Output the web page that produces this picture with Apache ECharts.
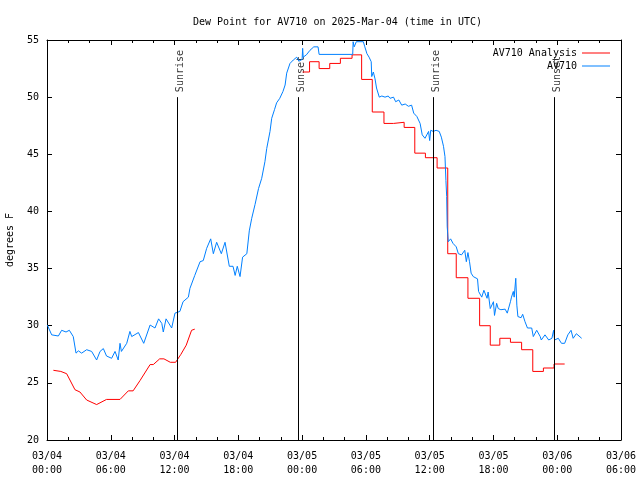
<!DOCTYPE html>
<html><head><meta charset="utf-8">
<script src="https://cdn.jsdelivr.net/npm/echarts@6/dist/echarts.min.js"></script>
<style>html,body{margin:0;padding:0;background:#fff}#c{width:640px;height:480px}</style>
</head><body><div id="c"></div>
<script>
var xTickLabels = ["03/04\n00:00","03/04\n06:00","03/04\n12:00","03/04\n18:00","03/05\n00:00","03/05\n06:00","03/05\n12:00","03/05\n18:00","03/06\n00:00","03/06\n06:00"];
// hours since 03/04 00:00 UTC
var analysisSmooth = [[0.6,26.1],[1.3,26.0],[1.85,25.8],[2.63,24.4],[3.1,24.2],[3.73,23.5],[4.67,23.1],[5.6,23.55],[6.87,23.55],[7.65,24.3],[8.1,24.3],[8.75,25.2],[9.7,26.6],[10.0,26.6],[10.6,27.1],[11.0,27.1],[11.6,26.8],[12.1,26.8],[12.6,27.5],[13.1,28.3],[13.6,29.6],[13.9,29.7]];
var analysisStep = [[24.05,52.2],[24.7,53.1],[25.6,52.5],[26.6,52.95],[27.6,53.4],[28.7,53.7],[29.6,51.55],[30.6,48.7],[31.7,47.7],[32.6,47.8],[33.6,47.35],[34.6,45.1],[35.6,44.7],[36.7,43.8],[37.7,36.3],[38.5,34.2],[39.6,32.4],[40.7,30.0],[41.7,28.3],[42.6,28.9],[43.6,28.55],[44.65,27.9],[45.7,26.0],[46.7,26.3],[47.7,26.65],[48.7,26.65]];
var observed = [[0.03,30.06],[0.44,29.2],[1.07,29.1],[1.38,29.6],[1.79,29.45],[2.1,29.6],[2.47,29.05],[2.73,27.6],[2.95,27.8],[3.26,27.6],[3.73,27.9],[4.2,27.75],[4.67,27.0],[4.99,27.75],[5.3,28.0],[5.6,27.35],[6.08,27.15],[6.4,27.75],[6.7,27.0],[6.87,28.46],[7.0,27.75],[7.5,28.46],[7.8,29.5],[7.97,29.05],[8.6,29.4],[9.1,28.46],[9.7,30.06],[10.16,29.8],[10.5,30.6],[10.8,30.2],[10.94,29.45],[11.2,30.6],[11.73,29.8],[12.04,31.1],[12.5,31.25],[12.8,32.1],[13.3,32.5],[13.45,33.27],[13.6,33.4],[13.9,34.4],[14.4,35.6],[14.7,35.7],[15.02,36.77],[15.4,37.6],[15.65,36.3],[15.96,37.3],[16.4,36.3],[16.75,37.3],[17.15,35.2],[17.5,35.2],[17.7,34.4],[17.9,35.2],[18.16,34.3],[18.4,36.0],[18.8,36.3],[19.03,38.3],[19.26,39.4],[19.57,40.6],[19.9,42.0],[20.2,42.9],[20.5,44.35],[20.67,45.5],[20.98,47.0],[21.14,48.15],[21.4,48.9],[21.6,49.5],[21.9,49.9],[22.2,50.5],[22.4,51.06],[22.55,52.1],[22.86,52.95],[23.17,53.25],[23.5,53.5],[23.7,53.15],[24.0,53.3],[24.05,54.27],[24.1,53.5],[24.4,53.7],[24.74,54.1],[25.1,54.4],[25.5,54.4],[25.6,53.74],[28.76,53.74],[28.8,54.85],[28.9,54.4],[29.1,54.85],[29.76,54.85],[29.9,54.4],[30.1,53.8],[30.3,53.5],[30.5,53.1],[30.55,51.8],[30.7,52.2],[30.86,51.6],[31.0,50.8],[31.26,50.0],[31.5,50.1],[31.8,50.0],[32.1,50.1],[32.27,49.9],[32.6,50.0],[32.8,49.6],[33.1,49.75],[33.37,49.3],[33.7,49.4],[34.0,49.2],[34.3,49.3],[34.5,48.6],[34.8,48.3],[35.1,47.7],[35.3,46.7],[35.56,46.4],[35.9,47.0],[36.0,46.2],[36.1,47.1],[36.34,47.0],[36.6,47.1],[36.9,47.0],[37.1,46.5],[37.3,45.7],[37.44,44.8],[37.53,42.7],[37.6,41.3],[37.65,38.66],[37.75,37.35],[37.97,37.6],[38.2,37.2],[38.5,36.9],[38.7,36.3],[39.0,36.2],[39.3,36.6],[39.45,35.6],[39.6,36.4],[39.75,35.6],[39.9,34.6],[40.1,34.3],[40.5,34.1],[40.6,33.0],[40.9,32.5],[41.1,33.1],[41.4,32.4],[41.5,32.95],[41.7,31.5],[42.0,32.1],[42.1,30.9],[42.3,31.96],[42.45,31.5],[42.7,31.4],[43.1,31.45],[43.3,31.1],[43.6,32.1],[43.7,32.5],[43.87,33.0],[43.95,32.5],[44.1,34.15],[44.2,31.8],[44.3,30.8],[44.6,30.7],[44.75,31.0],[44.97,30.35],[45.2,29.8],[45.6,29.8],[45.75,29.05],[46.07,29.6],[46.4,29.05],[46.5,28.75],[46.85,29.2],[47.2,28.75],[47.5,28.9],[47.66,29.6],[47.75,28.75],[48.1,28.9],[48.4,28.46],[48.7,28.46],[49.0,29.2],[49.3,29.6],[49.5,28.9],[49.8,29.3],[50.3,28.9]];
var sunEvents = ["Sunrise","Sunset","Sunrise","Sunset"];
var sunTimes = [12.23,23.68,36.34,47.72];

var FONT = "DejaVu Sans Mono";
var chart = echarts.init(document.getElementById('c'));
function xAx(pos, labels){
  return {type:'value', position:pos, min:0, max:54, interval:6,
    axisLine:{show:true,onZero:false,lineStyle:{color:'#000',width:1}},
    axisTick:{show:true,inside:true,length:5,lineStyle:{color:'#000'}},
    minorTick:{show:true,splitNumber:3,length:3,lineStyle:{color:'#000'}},
    splitLine:{show:false},
    axisLabel:{show:labels,margin:9,fontFamily:FONT,fontSize:10,color:'#000',lineHeight:14,
      formatter:function(v){return xTickLabels[Math.round(v/6)];}}};
}
function yAx(pos, labels){
  return {type:'value', position:pos, min:20, max:55, interval:5,
    name: labels ? 'degrees F' : '', nameLocation:'middle', nameGap:32, nameRotate:90,
    nameTextStyle:{fontFamily:FONT,fontSize:10,color:'#000'},
    axisLine:{show:true,onZero:false,lineStyle:{color:'#000',width:1}},
    axisTick:{show:true,inside:true,length:5,lineStyle:{color:'#000'}},
    splitLine:{show:false},
    axisLabel:{show:labels,margin:8,fontFamily:FONT,fontSize:10,color:'#000'}};
}
chart.setOption({
  animation:false,
  backgroundColor:'#fff',
  title:{text:'Dew Point for AV710 on 2025-Mar-04 (time in UTC)', left:188, top:12,
    textStyle:{fontFamily:FONT,fontSize:10,fontWeight:'normal',color:'#000'}},
  grid:{left:47,right:19,top:40,bottom:40,containLabel:false,outerBoundsMode:'none'},
  legend:[
    {data:['AV710 Analysis'], right:25, top:43, align:'right', icon:'rect', itemWidth:28, itemHeight:1,
     textStyle:{fontFamily:FONT,fontSize:10,color:'#000'}},
    {data:['AV710'], right:25, top:56, align:'right', icon:'rect', itemWidth:28, itemHeight:1,
     textStyle:{fontFamily:FONT,fontSize:10,color:'#000'}}
  ],
  xAxis:[xAx('bottom',true), xAx('top',false)],
  yAxis:[yAx('left',true), yAx('right',false)],
  series:[
    {name:'AV710 Analysis', type:'line', data:analysisSmooth, showSymbol:false, symbol:'none',
     lineStyle:{color:'#ff0000',width:1}, itemStyle:{color:'#ff0000'}},
    {name:'AV710 Analysis', type:'line', step:'end', data:analysisStep, showSymbol:false, symbol:'none',
     lineStyle:{color:'#ff0000',width:1}, itemStyle:{color:'#ff0000'}},
    {name:'AV710', type:'line', data:observed, showSymbol:false, symbol:'none',
     lineStyle:{color:'#0080ff',width:1}, itemStyle:{color:'#0080ff'}},
    {name:'sun', type:'scatter', symbolSize:0, silent:true,
     data: sunTimes.map(function(t,i){return {name:sunEvents[i], value:[t,50]};}),
     label:{show:true, position:'top', distance:8, rotate:90, align:'left', verticalAlign:'middle',
       offset:[-3,3], formatter:'{b}', fontFamily:FONT, fontSize:10, color:'#000'},
     markLine:{silent:true, symbol:['none','none'], label:{show:false},
       lineStyle:{color:'#000',width:1,type:'solid'},
       data: sunTimes.map(function(t){return [{coord:[t,20]},{coord:[t,50]}];})}}
  ]
});
</script></body></html>
